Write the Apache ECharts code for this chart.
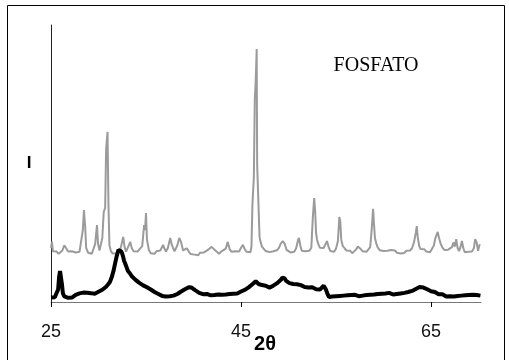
<!DOCTYPE html>
<html>
<head>
<meta charset="utf-8">
<style>
  html, body { margin: 0; padding: 0; background: #ffffff; }
  #chart { width: 509px; height: 360px; }
</style>
<script src="https://cdn.jsdelivr.net/npm/echarts@6/dist/echarts.min.js"></script>
</head>
<body>
<div id="chart"></div>
<script>
// X-ray diffraction patterns: [2θ (degrees), intensity (arbitrary units)]
const fosfatoPattern = [
  [25.0,19.5],[25.1,21.8],[25.2,18.3],[25.4,17.6],[25.6,18.2],[25.8,17.4],[26.0,18.0],[26.2,18.6],[26.4,20.5],[26.6,19.4],
  [26.8,18.2],[27.0,17.5],[27.2,18.3],[27.4,17.6],[27.6,17.9],[27.8,17.2],[28.0,18.1],[28.2,18.8],[28.35,26],[28.47,33.2],
  [28.6,27],[28.7,19.5],[28.9,17.8],[29.1,18.3],[29.3,17.4],[29.5,18.0],[29.65,21],[29.84,27.8],[29.95,21],[30.1,18.6],
  [30.25,18.2],[30.4,23],[30.55,32.5],[30.7,34],[30.8,54.9],[30.95,61.4],[31.05,35],[31.15,20.5],[31.3,18.4],[31.5,17.5],
  [31.7,18.2],[31.9,17.6],[32.1,18.1],[32.3,18.9],[32.6,23.5],[32.75,19.8],[32.9,18.2],[33.1,18.7],[33.35,21.7],[33.5,19.4],
  [33.7,18.3],[33.9,17.7],[34.1,18.2],[34.3,17.9],[34.6,20.2],[34.8,27.8],[34.9,26],[35.0,32.1],[35.1,22.5],[35.3,18.8],
  [35.5,17.6],[35.7,18.1],[35.9,17.4],[36.1,18.3],[36.3,17.9],[36.5,18.6],[36.8,20.6],[36.95,19.2],[37.1,18.2],[37.3,19.5],
  [37.55,23.1],[37.7,20.8],[37.85,19.5],[38.0,18.3],[38.3,20.5],[38.5,23.1],[38.7,21.5],[38.9,18.6],[39.1,18.0],[39.3,19.4],
  [39.5,18.2],[39.7,17.3],[39.9,18.0],[40.1,17.1],[40.3,17.6],[40.5,16.9],[40.7,17.8],[40.9,17.2],[41.1,17.9],[41.3,18.4],
  [41.6,19.0],[41.9,19.9],[42.1,19.4],[42.3,18.6],[42.5,17.9],[42.7,17.4],[42.9,18.2],[43.1,17.7],[43.4,19.3],[43.6,21.7],
  [43.8,19.1],[44.0,18.1],[44.2,17.5],[44.4,18.3],[44.6,17.8],[44.8,18.2],[45.0,19.6],[45.2,20.6],[45.4,19.0],[45.6,18.1],
  [45.8,17.4],[46.0,18.0],[46.1,20],[46.2,35],[46.35,45],[46.45,72.9],[46.55,80],[46.65,91.3],[46.7,49.5],[46.85,49.5],
  [46.95,23.5],[47.05,21.8],[47.2,20.0],[47.4,19.3],[47.6,18.4],[47.8,19.0],[48.0,18.0],[48.2,17.6],[48.4,18.3],[48.6,17.9],
  [48.8,18.7],[49.0,19.6],[49.2,21.2],[49.4,22.0],[49.6,21.0],[49.8,18.8],[50.0,18.2],[50.2,17.9],[50.4,18.6],[50.6,18.1],
  [50.8,19.4],[51.0,22.3],[51.1,23.1],[51.25,20.2],[51.4,18.5],[51.6,17.9],[51.8,18.3],[52.0,17.8],[52.2,18.5],[52.4,19.6],
  [52.55,30],[52.7,37.5],[52.8,33],[52.9,25],[53.0,22.5],[53.15,20.8],[53.3,19.6],[53.5,19.0],[53.7,19.5],[53.9,20.2],
  [54.05,22.0],[54.2,20.1],[54.4,18.4],[54.6,18.9],[54.8,18.1],[55.0,19.3],[55.2,22],[55.35,30.7],[55.45,29],[55.55,22.5],
  [55.7,20.3],[55.9,19.4],[56.1,18.6],[56.3,18.0],[56.5,18.5],[56.7,17.6],[56.9,18.2],[57.1,18.9],[57.3,20.0],[57.45,20.2],
  [57.6,19.1],[57.8,18.3],[58.0,18.8],[58.2,18.1],[58.4,18.6],[58.6,19.8],[58.75,26],[58.9,33.6],[59.0,28],[59.1,23],
  [59.25,21.0],[59.4,19.6],[59.6,18.7],[59.8,19.2],[60.0,18.4],[60.2,17.9],[60.4,18.5],[60.6,18.0],[60.8,18.8],[61.0,19.5],
  [61.2,18.6],[61.4,17.8],[61.6,18.2],[61.8,17.5],[62.0,18.1],[62.2,17.7],[62.4,18.5],[62.6,17.9],[62.8,18.6],[63.0,19.4],
  [63.2,21.5],[63.4,25.0],[63.5,27.4],[63.6,23.5],[63.75,20.3],[63.9,19.1],[64.1,18.5],[64.3,19.0],[64.5,18.2],[64.7,18.7],
  [64.9,18.0],[65.1,18.6],[65.3,20.4],[65.45,23.0],[65.6,22.5],[65.7,25.3],[65.85,23.0],[66.0,21.2],[66.2,19.6],[66.4,18.8],
  [66.6,18.3],[66.8,18.9],[67.0,18.2],[67.2,19.8],[67.35,21.5],[67.5,20.0],[67.65,22.7],[67.8,19.5],[67.95,18.4],[68.1,19.8],
  [68.25,22.0],[68.4,19.4],[68.55,18.0],[68.7,18.7],[68.9,18.1],[69.1,18.6],[69.3,18.2],[69.5,19.3],[69.65,22.7],[69.8,21.5],
  [69.95,18.5],[70.1,20.6],[70.2,20.6]
];

const broadPattern = [
  [25.0,1.6],[25.2,2.0],[25.4,1.7],[25.6,2.4],[25.75,4.5],[25.85,9],[25.95,11.2],[26.05,10.5],[26.15,6.5],[26.25,3.2],
  [26.4,2.0],[26.6,1.8],[26.8,1.5],[27.0,1.9],[27.2,1.6],[27.4,2.2],[27.6,2.6],[27.8,3.3],[28.0,3.1],[28.2,3.7],
  [28.4,3.4],[28.6,3.8],[28.8,3.3],[29.0,3.6],[29.2,3.2],[29.4,3.5],[29.6,3.0],[29.8,3.4],[30.0,3.7],[30.2,3.9],
  [30.4,4.4],[30.6,4.8],[30.8,5.5],[31.0,6.3],[31.2,7.2],[31.4,9.0],[31.6,11.5],[31.75,14.0],[31.9,16.3],[32.0,17.6],
  [32.1,18.8],[32.2,19.5],[32.3,19.0],[32.4,18.2],[32.5,17.4],[32.6,16.2],[32.7,14.8],[32.8,14.0],[32.95,12.6],[33.1,11.2],
  [33.3,10.4],[33.5,9.3],[33.7,8.6],[33.9,8.0],[34.1,7.3],[34.3,6.9],[34.5,6.5],[34.7,6.0],[34.9,5.6],[35.1,5.3],
  [35.3,4.8],[35.5,4.5],[35.7,4.0],[35.9,3.6],[36.1,3.2],[36.3,2.9],[36.5,2.6],[36.7,2.2],[36.9,2.4],[37.1,2.0],
  [37.3,1.8],[37.5,2.1],[37.7,1.7],[37.9,2.3],[38.1,2.6],[38.3,2.9],[38.5,3.3],[38.7,3.8],[38.9,4.2],[39.1,4.6],
  [39.3,4.9],[39.5,5.3],[39.65,5.0],[39.8,5.2],[40.0,4.6],[40.2,4.2],[40.4,3.8],[40.6,3.3],[40.8,3.0],[41.0,2.8],
  [41.2,2.5],[41.4,2.9],[41.6,2.6],[41.8,2.4],[42.0,2.8],[42.2,2.5],[42.4,2.3],[42.6,2.7],[42.8,2.4],[43.0,2.6],
  [43.2,2.3],[43.4,2.7],[43.6,2.5],[43.8,2.9],[44.0,2.7],[44.2,3.0],[44.4,3.3],[44.6,3.1],[44.8,3.5],[45.0,3.8],
  [45.2,4.0],[45.4,4.4],[45.6,4.9],[45.8,5.3],[46.0,5.9],[46.2,6.4],[46.4,6.9],[46.55,7.5],[46.7,7.2],[46.85,6.5],
  [47.0,6.9],[47.2,6.1],[47.4,5.6],[47.6,5.9],[47.8,5.4],[48.0,5.2],[48.2,5.6],[48.4,5.9],[48.6,6.3],[48.8,6.8],
  [49.0,7.4],[49.2,8.0],[49.35,8.8],[49.5,9.2],[49.6,8.5],[49.75,7.6],[49.9,7.1],[50.1,6.8],[50.3,7.0],[50.5,6.5],
  [50.7,6.2],[50.9,6.4],[51.1,5.9],[51.3,6.1],[51.5,5.7],[51.7,5.4],[51.9,5.6],[52.1,5.2],[52.3,5.0],[52.5,5.3],
  [52.7,4.9],[52.9,4.6],[53.1,4.8],[53.3,4.5],[53.5,5.0],[53.7,5.9],[53.8,5.6],[53.95,4.4],[54.1,2.9],[54.25,1.8],
  [54.4,1.6],[54.6,2.0],[54.8,1.7],[55.0,2.1],[55.2,1.8],[55.4,2.2],[55.6,1.9],[55.8,2.3],[56.0,2.0],[56.2,2.4],
  [56.4,2.1],[56.6,2.5],[56.8,2.2],[57.0,2.6],[57.2,2.3],[57.4,2.1],[57.6,2.6],[57.8,2.3],[58.0,2.8],[58.2,2.5],
  [58.4,2.9],[58.6,2.6],[58.8,2.3],[59.0,2.7],[59.2,2.4],[59.4,2.9],[59.6,2.6],[59.8,3.0],[60.0,2.7],[60.2,3.1],
  [60.4,2.8],[60.6,3.3],[60.8,3.0],[61.0,2.7],[61.2,3.2],[61.4,2.9],[61.6,3.4],[61.8,3.1],[62.0,3.5],[62.2,3.3],
  [62.4,3.7],[62.6,3.6],[62.8,4.1],[63.0,4.0],[63.2,4.4],[63.4,4.7],[63.6,5.1],[63.8,5.4],[64.0,5.6],[64.2,5.2],
  [64.4,4.9],[64.6,4.6],[64.8,4.2],[65.0,3.9],[65.2,3.5],[65.4,3.6],[65.6,3.2],[65.8,2.8],[66.0,2.5],[66.2,2.8],
  [66.4,2.3],[66.6,2.0],[66.8,2.4],[67.0,2.1],[67.2,1.7],[67.4,2.0],[67.6,1.6],[67.8,2.2],[68.0,1.8],[68.2,2.3],
  [68.4,1.9],[68.6,2.4],[68.8,2.0],[69.0,2.5],[69.2,2.1],[69.4,2.6],[69.6,2.2],[69.8,2.5],[70.0,2.1],[70.2,2.3]
];

const xTicks = [25, 45, 65];
const xName = '2θ';
const yName = 'I';
const sampleName = 'FOSFATO';

const chart = echarts.init(document.getElementById('chart'), null, { renderer: 'canvas' });

chart.setOption({
  animation: false,
  backgroundColor: '#ffffff',
  grid: { left: 51, right: 28, top: 25, bottom: 58, containLabel: false },
  xAxis: {
    type: 'value',
    min: 25,
    max: 70.26,
    interval: 20,
    axisLine: { show: true, onZero: false, lineStyle: { color: '#777777', width: 1 } },
    axisTick: { show: true, inside: false, length: 5, customValues: xTicks, lineStyle: { color: '#000000', width: 1 } },
    axisLabel: {
      customValues: xTicks,
      margin: 21,
      color: '#111111',
      fontFamily: 'Liberation Sans, Arial, sans-serif',
      fontSize: 18
    },
    splitLine: { show: false }
  },
  yAxis: {
    type: 'value',
    min: 0,
    max: 100,
    axisLine: { show: true, lineStyle: { color: '#222222', width: 1 } },
    axisTick: { show: false },
    axisLabel: { show: false },
    splitLine: { show: false }
  },
  series: [
    {
      name: 'fosfato',
      type: 'line',
      data: fosfatoPattern,
      showSymbol: false,
      symbol: 'none',
      lineStyle: { color: '#9b9b9b', width: 2 },
      z: 2
    },
    {
      name: 'broad',
      type: 'line',
      data: broadPattern,
      showSymbol: false,
      symbol: 'none',
      lineStyle: { color: '#000000', width: 4 },
      z: 3
    }
  ],
  graphic: [
    {
      type: 'rect',
      shape: { x: 7.5, y: 5.5, width: 497, height: 370 },
      style: { fill: 'none', stroke: '#000000', lineWidth: 1 },
      silent: true
    },
    {
      type: 'text',
      x: 376, y: 66,
      style: {
        text: sampleName,
        fontFamily: 'Liberation Serif, Times New Roman, serif',
        fontSize: 20,
        fill: '#000000',
        align: 'center',
        verticalAlign: 'middle'
      }
    },
    {
      type: 'text',
      x: 29, y: 163,
      style: {
        text: yName,
        fontFamily: 'Liberation Sans, Arial, sans-serif',
        fontWeight: 'bold',
        fontSize: 17,
        fill: '#000000',
        align: 'center',
        verticalAlign: 'middle'
      }
    },
    {
      type: 'text',
      x: 265, y: 344,
      style: {
        text: xName,
        fontFamily: 'Liberation Sans, Arial, sans-serif',
        fontWeight: 'bold',
        fontSize: 20,
        fill: '#000000',
        align: 'center',
        verticalAlign: 'middle'
      }
    }
  ]
});
</script>
</body>
</html>
